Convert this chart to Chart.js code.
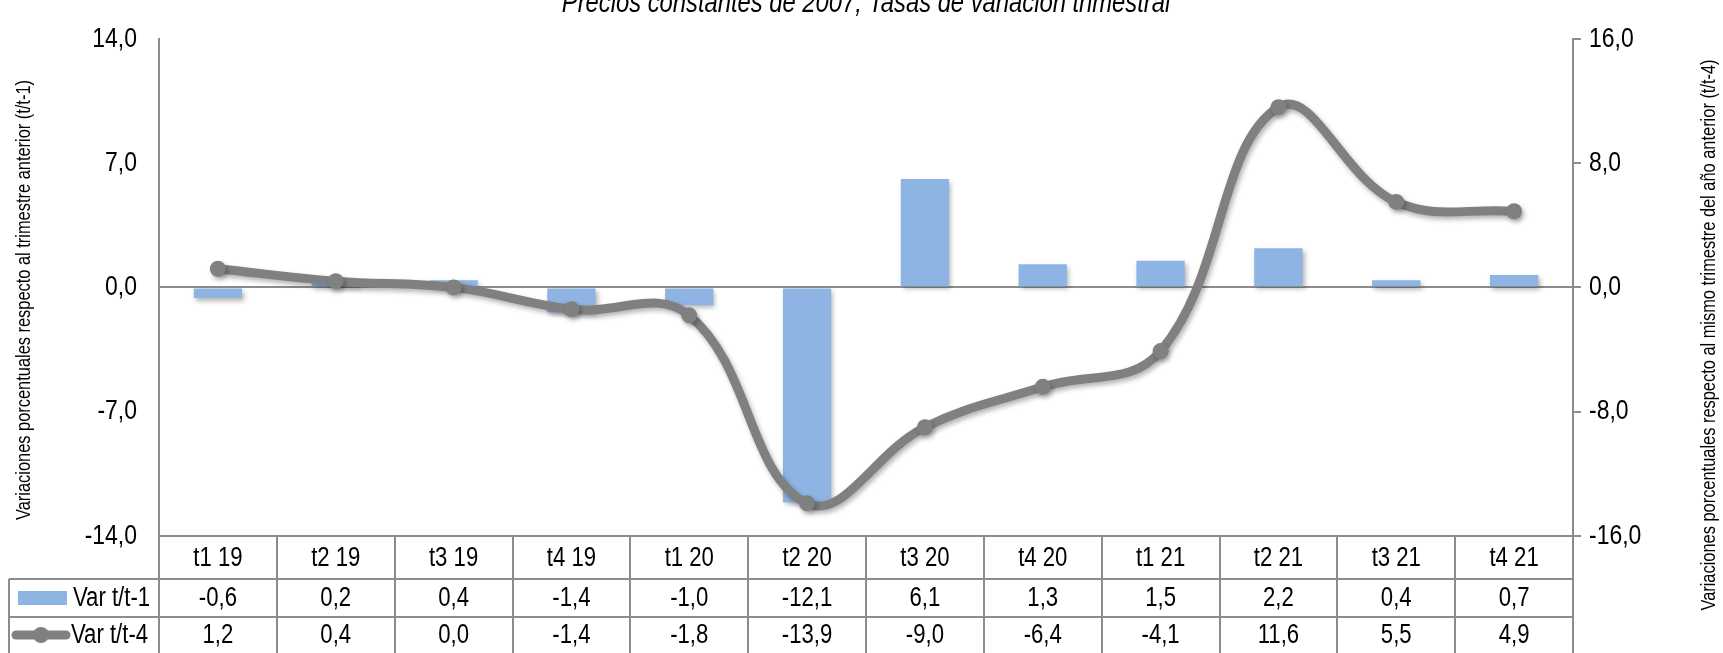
<!DOCTYPE html>
<html lang="es">
<head>
<meta charset="UTF-8">
<title>Var t/t-1 y t/t-4</title>
<style>
  html, body { margin: 0; padding: 0; background: #fff; }
  #wrap { width: 1723px; height: 653px; position: relative; }
</style>
</head>
<body>
<div id="wrap"><canvas id="chart"></canvas></div>
<script src="https://cdn.jsdelivr.net/npm/chart.js"></script>
<script>
// datos
var trimestres = ['t1 19', 't2 19', 't3 19', 't4 19', 't1 20', 't2 20', 't3 20', 't4 20', 't1 21', 't2 21', 't3 21', 't4 21'];
var varTrim = [-0.6, 0.2, 0.4, -1.4, -1.0, -12.1, 6.1, 1.3, 1.5, 2.2, 0.4, 0.7];     // Var t/t-1
var varAnual = [1.2, 0.4, 0.0, -1.4, -1.8, -13.9, -9.0, -6.4, -4.1, 11.6, 5.5, 4.9];  // Var t/t-4
var ticksIzq = [-14, -7, 0, 7, 14];
var ticksDer = [-16, -8, 0, 8, 16];

var titulo = 'Precios constantes de 2007; Tasas de variación trimestral';
var tituloIzq = 'Variaciones porcentuales respecto al trimestre anterior (t/t-1)';
var tituloDer = 'Variaciones porcentuales respecto al mismo trimestre del año anterior (t/t-4)';

var FUENTE = "'Liberation Sans Narrow', 'Arial Narrow', 'Liberation Sans', Arial, sans-serif";
var AZUL = '#8db4e2';
var GRIS = '#808080';
var LINEA = '#8c8c8c';
var ESTRECHO = 0.82; // no hay Arial Narrow: se comprime el texto a lo ancho

function coma(v) {
    return v.toFixed(1).replace('.', ',');
}

var canvas = document.getElementById('chart');
var c2d = canvas.getContext('2d');
var fillOrig = c2d.fillText;
var measureOrig = c2d.measureText;
c2d.fillText = function (t, x, y, w) {
    this.save();
    this.translate(x, y);
    this.scale(ESTRECHO, 1);
    if (w === undefined) fillOrig.call(this, t, 0, 0);
    else fillOrig.call(this, t, 0, 0, w / ESTRECHO);
    this.restore();
};
c2d.measureText = function (t) {
    var m = measureOrig.call(this, t);
    return {
        width: m.width * ESTRECHO,
        actualBoundingBoxAscent: m.actualBoundingBoxAscent,
        actualBoundingBoxDescent: m.actualBoundingBoxDescent
    };
};

// sombra suave como la de Excel
var sombra = {
    id: 'sombra',
    beforeDatasetDraw: function (chart) {
        var ctx = chart.ctx;
        ctx.save();
        ctx.shadowColor = 'rgba(0,0,0,0.30)';
        ctx.shadowBlur = 5;
        ctx.shadowOffsetX = 2;
        ctx.shadowOffsetY = 3;
    },
    afterDatasetDraw: function (chart) {
        chart.ctx.restore();
    }
};

// titulo, titulos de ejes y tabla de datos
var tabla = {
    id: 'tabla',
    afterDraw: function (chart) {
        var ctx = chart.ctx;
        var x = chart.scales.x;
        var area = chart.chartArea;
        var ancho = x.width / trimestres.length;
        var y0 = area.bottom, y1 = y0 + 43, y2 = y1 + 38, y3 = 653;
        var izq = 9;

        ctx.save();
        // titulo (cortado arriba, como en el original)
        ctx.fillStyle = '#000';
        ctx.font = 'italic 29px ' + FUENTE;
        ctx.textAlign = 'center';
        ctx.textBaseline = 'alphabetic';
        ctx.fillText(titulo, (area.left + area.right) / 2, 12);

        // titulos de ejes, los dos de abajo hacia arriba
        ctx.font = '20px ' + FUENTE;
        ctx.textBaseline = 'middle';
        ctx.save();
        ctx.translate(24, 300);
        ctx.rotate(-Math.PI / 2);
        ctx.fillText(tituloIzq, 0, 0);
        ctx.restore();
        ctx.save();
        ctx.translate(1709, 335);
        ctx.rotate(-Math.PI / 2);
        ctx.fillText(tituloDer, 0, 0);
        ctx.restore();

        // lineas de la tabla
        ctx.strokeStyle = LINEA;
        ctx.lineWidth = 2;
        ctx.beginPath();
        ctx.moveTo(area.left, y0); ctx.lineTo(area.right, y0);
        ctx.moveTo(izq, y1); ctx.lineTo(area.right, y1);
        ctx.moveTo(izq, y2); ctx.lineTo(area.right, y2);
        ctx.moveTo(izq, y1); ctx.lineTo(izq, y3);
        for (var i = 0; i <= trimestres.length; i++) {
            var xx = Math.round(area.left + i * ancho);
            ctx.moveTo(xx, y0); ctx.lineTo(xx, y3);
        }
        ctx.stroke();

        // textos
        ctx.fillStyle = '#000';
        ctx.font = '27px ' + FUENTE;
        ctx.textAlign = 'center';
        trimestres.forEach(function (t, i) {
            var cx = x.getPixelForValue(i);
            ctx.fillText(t, cx, (y0 + y1) / 2 + 1);
            ctx.fillText(coma(varTrim[i]), cx, (y1 + y2) / 2 + 1);
            ctx.fillText(coma(varAnual[i]), cx, (y2 + y3) / 2 + 1);
        });

        // leyenda dentro de la tabla
        ctx.fillStyle = AZUL;
        ctx.fillRect(18, (y1 + y2) / 2 - 7, 49, 14);
        ctx.strokeStyle = GRIS;
        ctx.lineWidth = 9;
        ctx.lineCap = 'round';
        ctx.beginPath();
        ctx.moveTo(16, (y2 + y3) / 2); ctx.lineTo(66, (y2 + y3) / 2);
        ctx.stroke();
        ctx.fillStyle = GRIS;
        ctx.beginPath();
        ctx.arc(41, (y2 + y3) / 2, 8, 0, Math.PI * 2);
        ctx.fill();

        ctx.fillStyle = '#000';
        ctx.textAlign = 'left';
        ctx.fillText('Var t/t-1', 73, (y1 + y2) / 2 + 1);
        ctx.fillText('Var t/t-4', 71, (y2 + y3) / 2 + 1);
        ctx.restore();
    }
};

var grafico = new Chart(canvas, {
    data: {
        labels: trimestres,
        datasets: [{
            type: 'line',
            label: 'Var t/t-4',
            data: varAnual,
            yAxisID: 'y2',
            order: 1,
            borderColor: GRIS,
            backgroundColor: GRIS,
            borderWidth: 9,
            tension: 0.4,
            pointRadius: 8,
            pointBorderWidth: 0,
            pointBackgroundColor: GRIS,
            borderCapStyle: 'round'
        }, {
            type: 'bar',
            label: 'Var t/t-1',
            data: varTrim,
            yAxisID: 'y',
            order: 2,
            backgroundColor: AZUL,
            borderWidth: 0,
            categoryPercentage: 1,
            barPercentage: 0.41
        }]
    },
    options: {
        responsive: true,
        maintainAspectRatio: false,
        animation: false,
        layout: { padding: { top: 24, left: 0, right: 0, bottom: 0 } },
        plugins: {
            legend: { display: false },
            tooltip: { enabled: false }
        },
        scales: {
            x: {
                ticks: { display: false },
                grid: { display: false },
                border: { display: false },
                afterFit: function (s) { s.height = 117; }
            },
            y: {
                position: 'left',
                min: -14,
                max: 14,
                afterBuildTicks: function (s) { s.ticks = ticksIzq.map(function (v) { return { value: v }; }); },
                afterFit: function (s) { s.width = 159; },
                ticks: {
                    padding: 22,
                    color: '#000',
                    font: { family: FUENTE, size: 28 },
                    callback: function (v) { return coma(v); }
                },
                grid: {
                    drawTicks: false,
                    lineWidth: 2,
                    color: function (c) { return c.tick && c.tick.value === 0 ? LINEA : 'rgba(0,0,0,0)'; }
                },
                border: { display: true, color: LINEA, width: 2 }
            },
            y2: {
                position: 'right',
                min: -16,
                max: 16,
                afterBuildTicks: function (s) { s.ticks = ticksDer.map(function (v) { return { value: v }; }); },
                afterFit: function (s) { s.width = 150; },
                ticks: {
                    padding: 8,
                    color: '#000',
                    font: { family: FUENTE, size: 28 },
                    callback: function (v) { return coma(v); }
                },
                grid: {
                    drawOnChartArea: false,
                    tickLength: 8,
                    lineWidth: 2,
                    color: LINEA
                },
                border: { display: true, color: LINEA, width: 2 }
            }
        }
    },
    plugins: [sombra, tabla]
});
</script>
</body>
</html>
